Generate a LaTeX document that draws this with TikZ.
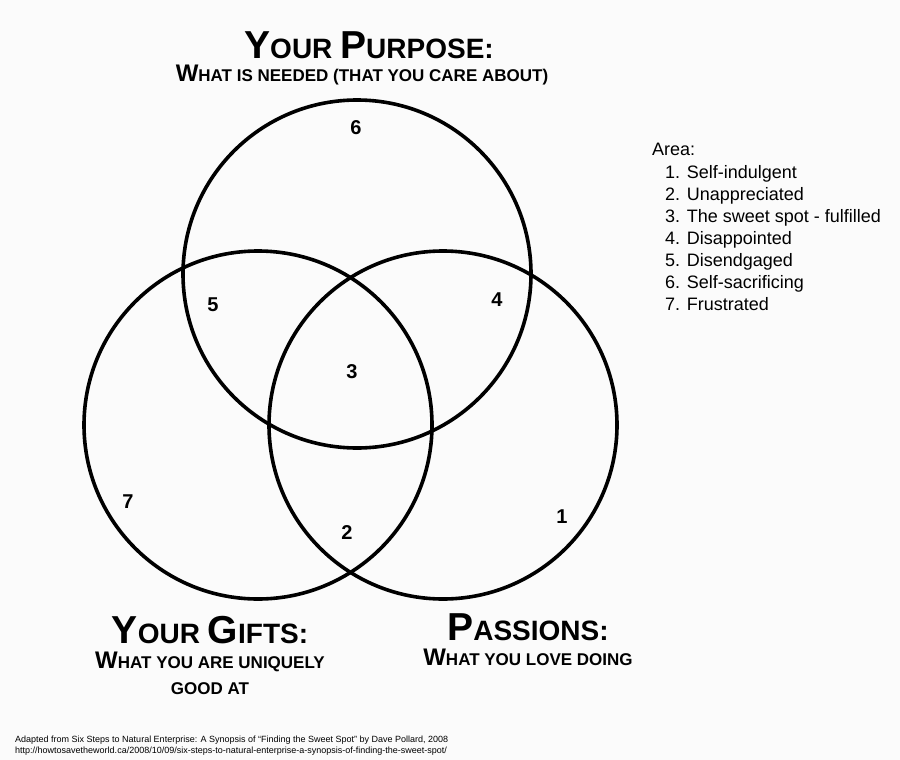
\documentclass[tikz,border=0pt]{standalone}
\usepackage{fontspec}
\setmainfont{Liberation Sans}
\usepackage{tikz}
\definecolor{fond}{RGB}{251,251,251}
\newcommand{\gros}[1]{{\fontsize{39}{40}\selectfont #1}}
\newcommand{\moyen}[1]{{\fontsize{24}{25}\selectfont #1}}

\begin{document}
\begin{tikzpicture}[x=1pt, y=-1pt,
  ring/.style={circle, draw, line width=3.6pt, minimum size=348pt, inner sep=0pt},
  titre/.style={font=\bfseries\fontsize{28}{30}\selectfont, inner sep=0pt},
  soustitre/.style={font=\bfseries\fontsize{17}{26}\selectfont, align=center, inner sep=0pt},
  num/.style={font=\bfseries\fontsize{20}{22}\selectfont, inner sep=0pt},
  leg/.style={font=\fontsize{18}{20}\selectfont, anchor=base west, inner sep=0pt}]
\fill[fond] (0,0) rectangle (900,760);
\useasboundingbox (0,0) rectangle (900,760);
\node[ring] (purpose) at (357,274) {};
\node[ring] (gifts) at (258,425) {};
\node[ring] (passions) at (443,425) {};
\node[titre] (tpurpose) at (369,45) {\gros{Y}OUR \gros{P}URPOSE:};
\node[soustitre] (spurpose) at (362,75) {\moyen{W}HAT IS NEEDED (THAT YOU CARE ABOUT)};
\node[titre] (tgifts) at (210,630) {\gros{Y}OUR \gros{G}IFTS:};
\node[soustitre] (sgifts) at (210,673) {\moyen{W}HAT YOU ARE UNIQUELY\\ GOOD AT};
\node[titre] (tpassions) at (528,627) {\gros{P}ASSIONS:};
\node[soustitre] (spassions) at (528,657) {\moyen{W}HAT YOU LOVE DOING};
\node[num] (n6) at (356,128) {6};
\node[num] (n5) at (213,305) {5};
\node[num] (n4) at (497,300) {4};
\node[num] (n3) at (352,372) {3};
\node[num] (n7) at (128,502) {7};
\node[num] (n2) at (347,533) {2};
\node[num] (n1) at (562,517) {1};
\node[leg] (area) at (652,155) {Area:};
\foreach \t [count=\i] in {Self-indulgent, Unappreciated, The sweet spot - fulfilled,
    Disappointed, Disendgaged, Self-sacrificing, Frustrated}
  \node[leg] (l\i) at (665,156+22*\i) {\i. \t};
\node[font=\fontsize{9}{11}\selectfont, anchor=west, align=left, inner sep=0pt] (source) at (15,746)
  {Adapted from Six Steps to Natural Enterprise: A Synopsis of ``Finding the Sweet Spot'' by Dave Pollard, 2008\\
   http://howtosavetheworld.ca/2008/10/09/six-steps-to-natural-enterprise-a-synopsis-of-finding-the-sweet-spot/};
\end{tikzpicture}
\end{document}
